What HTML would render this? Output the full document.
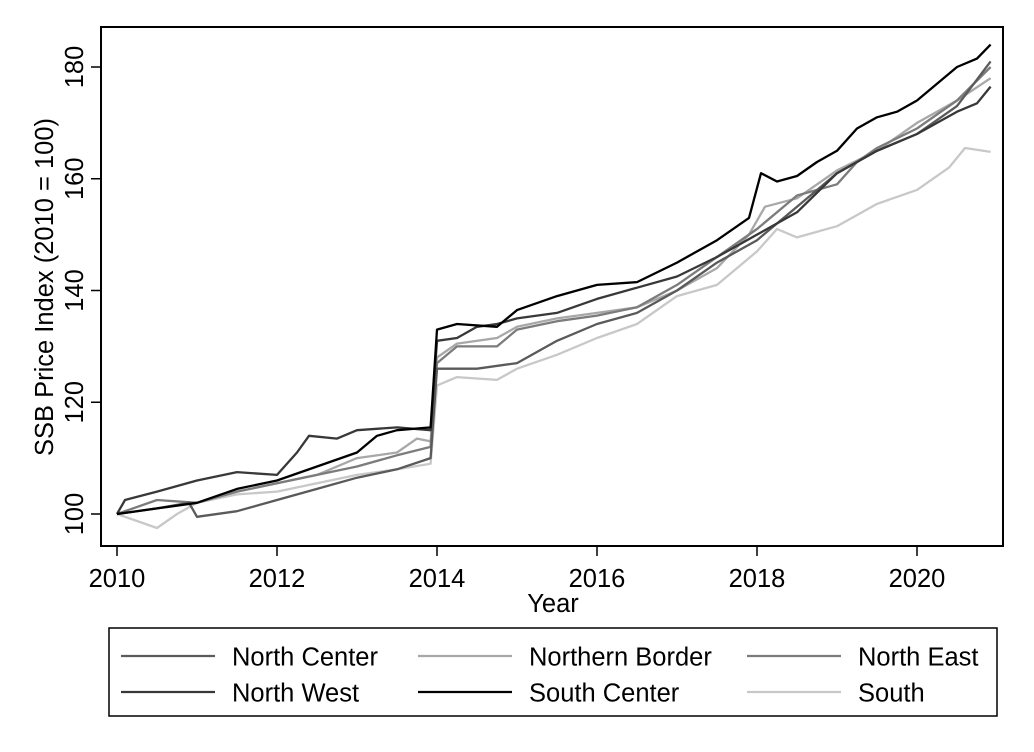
<!DOCTYPE html>
<html><head><meta charset="utf-8"><style>
body{margin:0;background:#fff;}
svg{display:block;font-family:"Liberation Sans",Arial,sans-serif;}
</style></head><body>
<svg id="chart" width="1034" height="752" viewBox="0 0 1034 752">
<rect x="0" y="0" width="1034" height="752" fill="#fff"/>
<g id="plot"></g>
<rect x="101" y="27" width="902" height="519" fill="none" stroke="#000" stroke-width="2"/>
<g id="axes"></g>
<text x="53" y="287" font-size="25.5" text-anchor="middle" transform="rotate(-90 53 287)">SSB Price Index (2010 = 100)</text>
<text x="553" y="612" font-size="25.5" text-anchor="middle">Year</text>
<g>
<rect x="109" y="628" width="888" height="88" fill="none" stroke="#000" stroke-width="1.5"/>
<g id="legend"></g>
</g>
</svg>
<script>
const xTicks=[2010,2012,2014,2016,2018,2020];
const yTicks=[100,120,140,160,180];
const seriesNames=["North Center","Northern Border","North East","North West","South Center","South"];
const seriesColors=["#5a5a5a","#a8a8a8","#7c7c7c","#383838","#000000","#c8c8c8"];
const ncYears=[2010,2010.5,2010.9,2011,2011.5,2012,2012.5,2013,2013.5,2013.92,2014.0,2014.5,2015,2015.5,2016,2016.5,2017,2017.5,2018,2018.5,2019,2019.5,2020,2020.5,2020.92];
const ncVals=[100,101,102,99.5,100.5,102.5,104.5,106.5,108,110,126,126,127,131,134,136,140,145,149,155,161,165,168,173,181];
const nbYears=[2010,2010.5,2011,2011.5,2012,2012.5,2013,2013.5,2013.75,2013.92,2014.0,2014.25,2014.75,2015,2015.5,2016,2016.5,2017,2017.5,2017.9,2018.1,2018.5,2019,2019.5,2020,2020.5,2020.92];
const nbVals=[100,101,102,104,105.5,107,110,111,113.5,113,128,130.5,131.5,133.5,135,136,137,140,144,150,155,156.5,161.5,165,170,174,178];
const neYears=[2010,2010.5,2011,2011.5,2012,2012.5,2013,2013.5,2013.92,2014.0,2014.25,2014.75,2015,2015.5,2016,2016.5,2017,2017.5,2018,2018.5,2019,2019.25,2019.5,2020,2020.5,2020.92];
const neVals=[100,102.5,102,104,105.5,107,108.5,110.5,112,127,130,130,133,134.5,135.5,137,141,146,151,157,159,163,165.5,169,174,180];
const nwYears=[2010,2010.1,2010.5,2011,2011.5,2012,2012.25,2012.4,2012.75,2013,2013.5,2013.92,2014.0,2014.25,2014.5,2014.75,2015,2015.5,2016,2016.5,2017,2017.5,2018,2018.5,2019,2019.5,2020,2020.5,2020.75,2020.92];
const nwVals=[100,102.5,104,106,107.5,107,111,114,113.5,115,115.5,115,131,131.5,133.5,134,135,136,138.5,140.5,142.5,146,150,154,161,165,168,172,173.5,176.5];
const scYears=[2010,2010.5,2011,2011.5,2012,2012.5,2013,2013.25,2013.5,2013.92,2014.0,2014.25,2014.75,2015,2015.5,2016,2016.5,2017,2017.5,2017.9,2018.05,2018.25,2018.5,2018.75,2019,2019.25,2019.5,2019.75,2020,2020.25,2020.5,2020.75,2020.92];
const scVals=[100,101,102,104.5,106,108.5,111,114,115,115.5,133,134,133.5,136.5,139,141,141.5,145,149,153,161,159.5,160.5,163,165,169,171,172,174,177,180,181.5,184];
const soYears=[2010,2010.5,2010.75,2011,2011.5,2012,2012.5,2013,2013.5,2013.92,2014.0,2014.25,2014.75,2015,2015.5,2016,2016.5,2017,2017.5,2018,2018.25,2018.5,2019,2019.5,2020,2020.4,2020.6,2020.92];
const soVals=[100,97.5,100,102,103.5,104,105.5,107,108,109,123,124.5,124,126,128.5,131.5,134,139,141,147,151,149.5,151.5,155.5,158,162,165.5,164.8];
const allYears=[ncYears,nbYears,neYears,nwYears,scYears,soYears];
const allVals=[ncVals,nbVals,neVals,nwVals,scVals,soVals];

const NS="http://www.w3.org/2000/svg";
function xS(t){return 117+(t-2010)*80;}
function yS(v){return 514-(v-100)*5.5875;}
function mk(tag,attrs,parent){const e=document.createElementNS(NS,tag);for(const k in attrs)e.setAttribute(k,attrs[k]);parent.appendChild(e);return e;}
const plot=document.getElementById('plot'),axes=document.getElementById('axes'),legend=document.getElementById('legend');
const order=[5,1,2,0,3,4];
order.forEach(i=>{
  const pts=allYears[i].map((t,j)=>xS(t).toFixed(1)+","+yS(allVals[i][j]).toFixed(1)).join(" ");
  const p=mk('polyline',{points:pts,fill:"none",stroke:seriesColors[i],"stroke-width":2.3,"stroke-linejoin":"round"},plot);
  
  
});
xTicks.forEach(t=>{
  const l=mk('line',{x1:xS(t),x2:xS(t),y1:546,y2:556,stroke:"#000","stroke-width":1.5},axes);
  
  
  const tx=mk('text',{x:xS(t),y:587,"font-size":25.5,"text-anchor":"middle"},axes);
  tx.textContent=t;
  
  
});
yTicks.forEach(v=>{
  const l=mk('line',{x1:91,x2:101,y1:yS(v),y2:yS(v),stroke:"#000","stroke-width":1.5},axes);
  
  
  const tx=mk('text',{x:83,y:yS(v),"font-size":25.5,"text-anchor":"middle",transform:`rotate(-90 83 ${yS(v)})`},axes);
  tx.textContent=v;
  
  
});
const colX=[121,418,747],rowY=[656,692];
seriesNames.forEach((n,i)=>{
  const cx=colX[i%3],cy=rowY[Math.floor(i/3)];
  const g=mk('g',{},legend);
  
  
  mk('line',{x1:cx,x2:cx+94,y1:cy,y2:cy,stroke:seriesColors[i],"stroke-width":2.3},g);
  const tx=mk('text',{x:cx+111,y:cy+9.5,"font-size":25.5},g);
  tx.textContent=n;
});
</script>
</body></html>
